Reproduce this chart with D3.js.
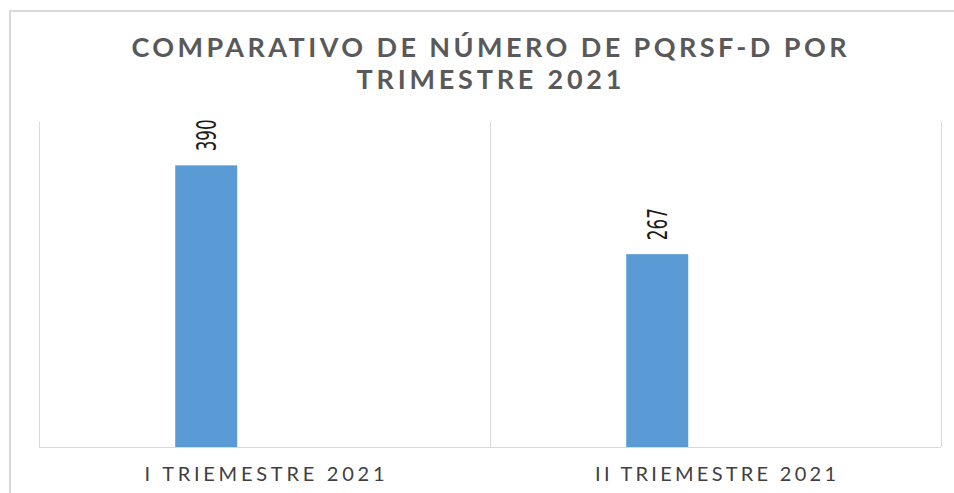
<!DOCTYPE html>
<html>
<head>
<meta charset="utf-8">
<script src="https://cdn.jsdelivr.net/npm/d3@7/dist/d3.min.js"></script>
<style>
  html, body { margin: 0; padding: 0; background: #fff; overflow: hidden; }
  svg { display: block; }
</style>
</head>
<body>
<svg id="chart" width="954" height="493"></svg>
<script>
const titleLines = ["COMPARATIVO DE NÚMERO DE PQRSF-D POR", "TRIMESTRE 2021"];
const categories = ["I TRIEMESTRE 2021", "II TRIEMESTRE 2021"];
const values = [390, 267];
const yMax = 450;

const svg = d3.select("#chart");
const plot = { left: 39, right: 941, top: 122, bottom: 447 };

// outer chart frame (extends beyond the cropped view)
svg.append("rect")
  .attr("x", 10).attr("y", 11)
  .attr("width", 980).attr("height", 520)
  .attr("fill", "#fff")
  .attr("stroke", "#d9d9d9").attr("stroke-width", 2);

const x = d3.scaleBand().domain(categories).range([plot.left, plot.right]).padding(0);
const y = d3.scaleLinear().domain([0, yMax]).range([plot.bottom, plot.top]);

// vertical gridlines at category boundaries
const bounds = categories.map(c => x(c)).concat([x(categories[categories.length - 1]) + x.bandwidth()]);
svg.append("g").selectAll("line").data(bounds).join("line")
  .attr("x1", d => d + 0.5).attr("x2", d => d + 0.5)
  .attr("y1", plot.top).attr("y2", plot.bottom)
  .attr("stroke", "#d9d9d9").attr("stroke-width", 1);

// bars
const bw = x.bandwidth();
const barOffset = bw * 0.302, barWidth = bw * 0.1375;
svg.append("g").selectAll("rect").data(values).join("rect")
  .attr("x", (d, i) => x(categories[i]) + barOffset)
  .attr("width", barWidth)
  .attr("y", d => y(d))
  .attr("height", d => y(0) - y(d))
  .attr("fill", "#5b9bd5");

// axis line
svg.append("line")
  .attr("x1", plot.left).attr("x2", plot.right)
  .attr("y1", plot.bottom + 0.5).attr("y2", plot.bottom + 0.5)
  .attr("stroke", "#d9d9d9").attr("stroke-width", 1);

// category axis labels
const xAxis = svg.append("g")
  .attr("transform", `translate(0,${plot.bottom})`)
  .call(d3.axisBottom(x).tickSize(0).tickPadding(0));
xAxis.select(".domain").remove();
xAxis.selectAll("text")
  .attr("y", 34)
  .attr("dy", 0)
  .attr("font-family", "Lato, 'Open Sans', sans-serif")
  .attr("font-size", 20)
  .attr("fill", "#404040")
  .attr("textLength", (d, i) => i === 0 ? 240 : 241)
  .attr("lengthAdjust", "spacing");

// data labels (rotated)
const fs = 26;
svg.append("g").selectAll("text").data(values).join("text")
  .attr("transform", (d, i) => {
    const cx = x(categories[i]) + barOffset + barWidth / 2;
    return `translate(${cx + fs * 0.716 / 2},${y(d) - 14}) rotate(-90)`;
  })
  .attr("font-family", "'Liberation Sans Narrow', 'DejaVu Sans Condensed', 'Liberation Sans', sans-serif")
  .attr("font-size", fs)
  .attr("fill", "#1a1a1a")
  .attr("textLength", 32)
  .attr("lengthAdjust", "spacingAndGlyphs")
  .text(d => d);

// title
const titleWidths = [715, 265];
const titleBase = [57, 89];
svg.append("g").selectAll("text").data(titleLines).join("text")
  .attr("x", 489)
  .attr("y", (d, i) => titleBase[i])
  .attr("text-anchor", "middle")
  .attr("font-family", "Lato, 'Open Sans', sans-serif")
  .attr("font-weight", 700)
  .attr("font-size", 27)
  .attr("fill", "#595959")
  .attr("textLength", (d, i) => titleWidths[i])
  .attr("lengthAdjust", "spacing")
  .text(d => d);
</script>
</body>
</html>
